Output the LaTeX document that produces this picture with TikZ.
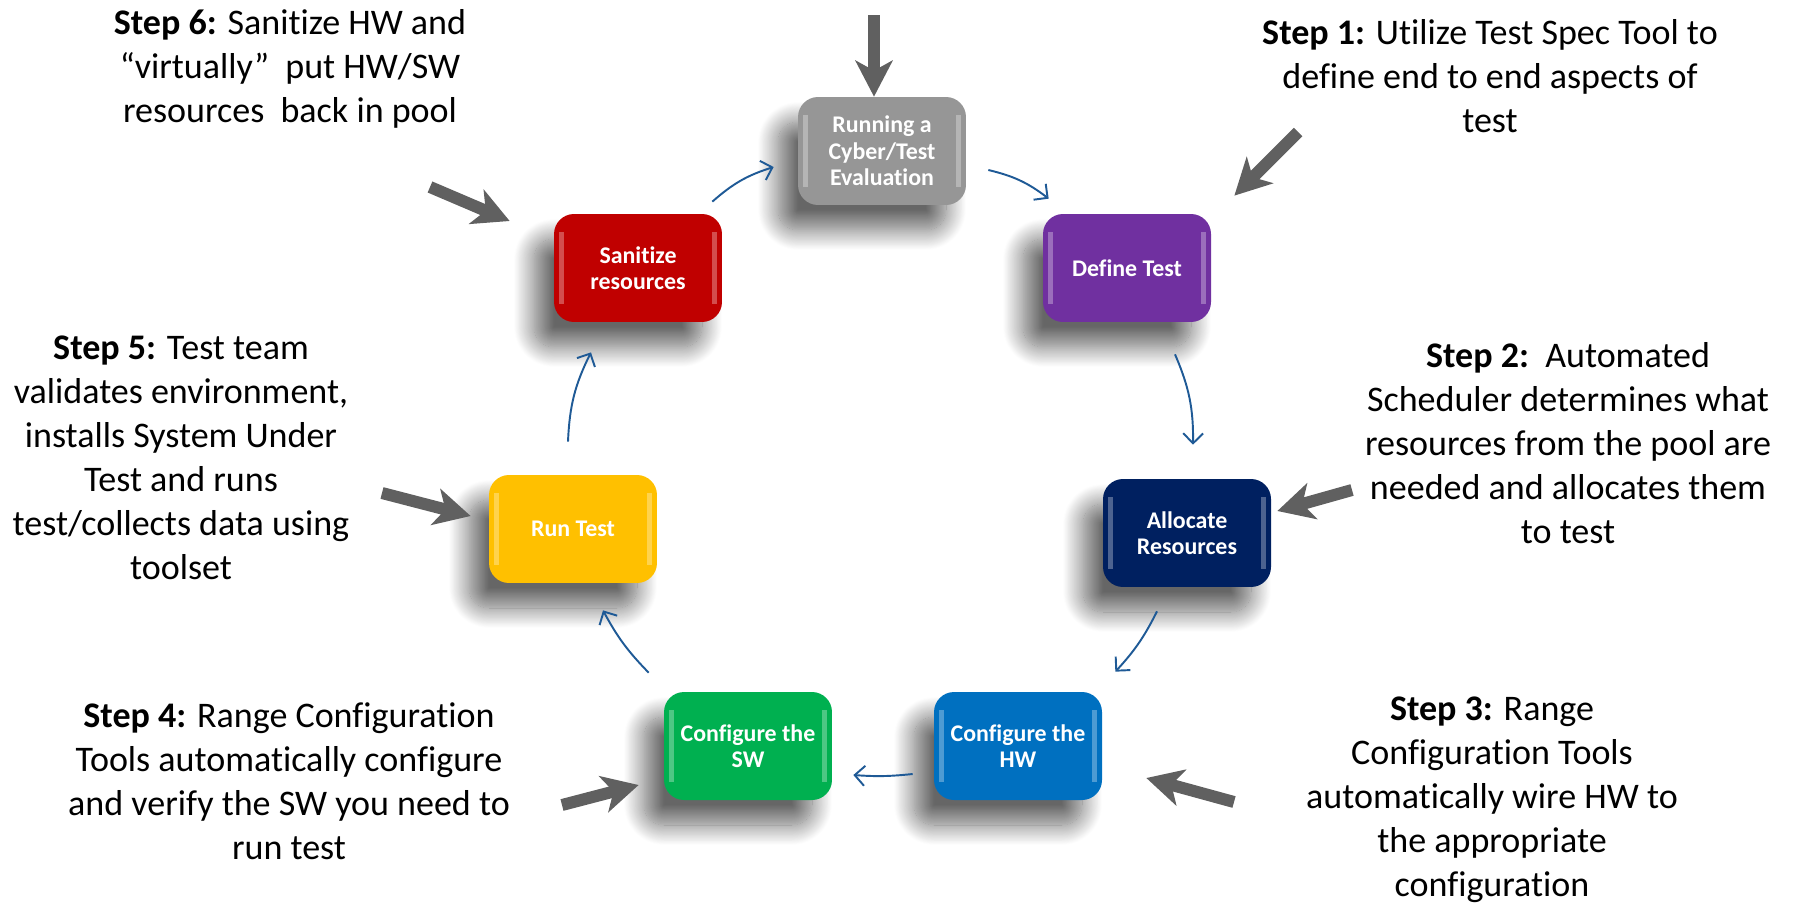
\documentclass[tikz,border=0pt]{standalone}
\usepackage{fontspec}
\setmainfont{Carlito}[Ligatures={NoCommon}]
\usetikzlibrary{arrows.meta,shadows.blur}

\definecolor{evalGray}{HTML}{969696}
\definecolor{definePurple}{HTML}{7030A0}
\definecolor{allocNavy}{HTML}{002060}
\definecolor{hwBlue}{HTML}{0070C0}
\definecolor{swGreen}{HTML}{00B050}
\definecolor{runYellow}{HTML}{FFC000}
\definecolor{sanRed}{HTML}{C00000}
\definecolor{pointerGray}{HTML}{606060}
\definecolor{flowBlue}{HTML}{1F5A96}

\tikzset{
  stage/.style={rounded corners=0.4cm, minimum width=3.36cm, minimum height=2.16cm,
    align=center, text=white, font=\fontsize{13.6}{15}\selectfont\bfseries,
    blur shadow={shadow xshift=-0.4cm, shadow yshift=-0.5cm, shadow blur radius=0.4cm,
      shadow blur steps=24, shadow opacity=60}},
  gloss/.style={white, opacity=0.3},
  pointer/.style={draw=pointerGray, line width=0.24cm,
    -{Stealth[length=0.72cm,width=0.74cm,inset=0.2cm]}},
  flow/.style={draw=flowBlue, line width=1.1pt,
    -{Straight Barb[length=0.2cm,width=0.4cm]}},
  steptext/.style={align=center, font=\fontsize{20.5}{25}\selectfont}
}

\begin{document}
\begin{tikzpicture}[x=0.02cm, y=-0.02cm]
\useasboundingbox (0,0) rectangle (1797,916);

% stages of the cycle
\node[stage, fill=evalGray] (run) at (882,151) {Running a\\Cyber/Test\\Evaluation};
\node[stage, fill=definePurple] (def) at (1127,268) {Define Test};
\node[stage, fill=allocNavy] (alloc) at (1187,533) {Allocate\\Resources};
\node[stage, fill=hwBlue] (hw) at (1018,746) {Configure the\\HW};
\node[stage, fill=swGreen] (sw) at (748,746) {Configure the\\SW};
\node[stage, fill=runYellow] (runt) at (573,529) {Run Test};
\node[stage, fill=sanRed] (san) at (638,268) {Sanitize\\resources};

% glossy edges
\foreach \s in {run,def,alloc,hw,sw,runt,san} {
  \fill[gloss] ([shift={(5,18)}]\s.north west) rectangle ([shift={(10,-18)}]\s.south west);
  \fill[gloss] ([shift={(-10,18)}]\s.north east) rectangle ([shift={(-5,-18)}]\s.south east);
}

% cycle arrows
\draw[flow] ([shift={(22,19)}]run.east) to[bend left=12] ([shift={(6,-15)}]def.north west);
\draw[flow] ([shift={(48,32)}]def.south) to[bend left=12] ([shift={(6,-34)}]alloc.north);
\draw[flow] ([shift={(-30,24)}]alloc.south) to[bend left=8] ([shift={(13,-20)}]hw.north east);
\draw[flow] ([shift={(-21,28)}]hw.west) to[bend left=5] ([shift={(21,29)}]sw.east);
\draw[flow] ([shift={(-15,-19)}]sw.north west) to[bend left=8] ([shift={(30,27)}]runt.south);
\draw[flow] ([shift={(-5,-33)}]runt.north) to[bend left=12] ([shift={(-47,30)}]san.south);
\draw[flow] ([shift={(-10,-12)}]san.north east) to[bend left=12] ([shift={(-24,16)}]run.west);

% step descriptions
\node[steptext] (step1) at (1490,76) {\textbf{Step 1:} Utilize Test Spec Tool to\\define end to end aspects of\\test};
\node[steptext] (step2) at (1568,443) {\textbf{Step 2:}\ \ Automated\\Scheduler determines what\\resources from the pool are\\needed and allocates them\\to test};
\node[steptext] (step3) at (1492,800) {\textbf{Step 3:} Range\\Configuration Tools\\automatically wire HW to\\the appropriate\\configuration};
\node[steptext] (step4) at (289,781) {\textbf{Step 4:} Range Configuration\\Tools automatically configure\\and verify the SW you need to\\run test};
\node[steptext] (step5) at (181,458) {\textbf{Step 5:} Test team\\validates environment,\\installs System Under\\Test and runs\\test/collects data using\\toolset};
\node[steptext] (step6) at (290,69) {\textbf{Step 6:} Sanitize HW and\\“virtually”\ \ put HW/SW\\resources\ \ back in pool};

% pointers from the steps
\coordinate (p0) at (874,15);
\coordinate (p1) at (1298,132);
\coordinate (p2) at (1352,490);
\coordinate (p3) at (1234,802);
\coordinate (p4) at (562,805);
\coordinate (p5) at (382,493);
\coordinate (p6) at (430,187);
\draw[pointer] (p0) -- (p0 |- run.north);
\draw[pointer] (p1) -- ([shift={(23,-18)}]def.north east);
\draw[pointer] (p2) -- ([shift={(6,-22)}]alloc.east);
\draw[pointer] (p3) -- ([shift={(44,32)}]hw.east);
\draw[pointer] (p4) -- ([shift={(-25,39)}]sw.west);
\draw[pointer] (p5) -- ([shift={(-18,-13)}]runt.west);
\draw[pointer] (p6) -- ([shift={(-44,-47)}]san.west);
\end{tikzpicture}
\end{document}
